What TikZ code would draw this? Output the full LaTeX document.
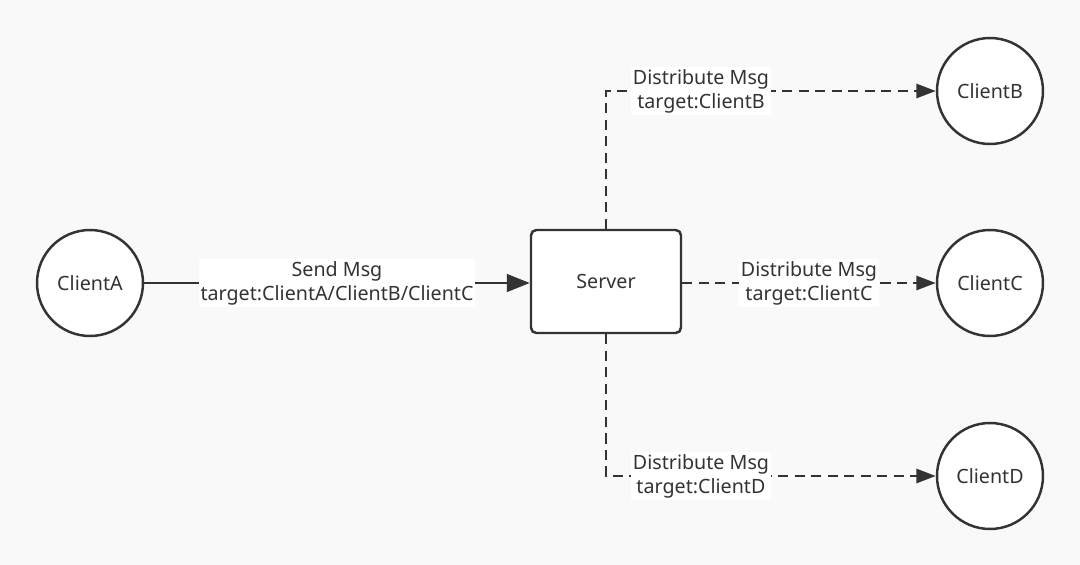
\documentclass[tikz,border=0pt]{standalone}
\usepackage{fontspec}
\setmainfont{Noto Sans}
\usetikzlibrary{arrows.meta,positioning,calc}
\definecolor{bgc}{HTML}{F9F9F9}
\definecolor{ink}{HTML}{333333}

\begin{document}
\begin{tikzpicture}[x=0.02cm,y=-0.02cm,
    client/.style={circle,draw=ink,fill=white,line width=1.4pt,minimum size=2.12cm,inner sep=0pt,text=ink,font=\fontsize{11.2}{13}\selectfont},
    serverbox/.style={rectangle,draw=ink,fill=white,line width=1.4pt,rounded corners=3pt,minimum width=3cm,minimum height=2.06cm,text=ink,font=\fontsize{11.2}{13}\selectfont},
    msg/.style={fill=white,inner sep=1pt,align=center,text=ink,font=\fontsize{11.2}{13.6}\selectfont},
    link/.style={draw=ink,line width=1.4pt,-{Triangle[length=13pt,width=10pt]}},
    distlink/.style={draw=ink,line width=1.4pt,dash pattern=on 5.8pt off 3.6pt,-{Triangle[length=11pt,width=8pt]}}]

    % background and page size
    \fill [bgc] (0,0) rectangle (1080,565);
    \useasboundingbox (0,0) rectangle (1080,565);

    \node [client] (clientA) at (90,283) {ClientA};
    \node [client] (clientB) at (990,91) {ClientB};
    \node [client] (clientC) at (990,283) {ClientC};
    \node [client] (clientD) at (990,476) {ClientD};
    \node [serverbox] (server) at (606,281.5) {Server};

    \draw [link] (clientA) -- node [msg] {Send Msg\\target:ClientA/ClientB/ClientC} (clientA -| server.west);
    \draw [distlink] (server.north) |- node [msg,pos=0.644] {Distribute Msg\\target:ClientB} (clientB);
    \draw [distlink] (server.east |- clientC) -- node [msg] {Distribute Msg\\target:ClientC} (clientC);
    \draw [distlink] (server.south) |- node [msg,pos=0.644] {Distribute Msg\\target:ClientD} (clientD);
\end{tikzpicture}
\end{document}
